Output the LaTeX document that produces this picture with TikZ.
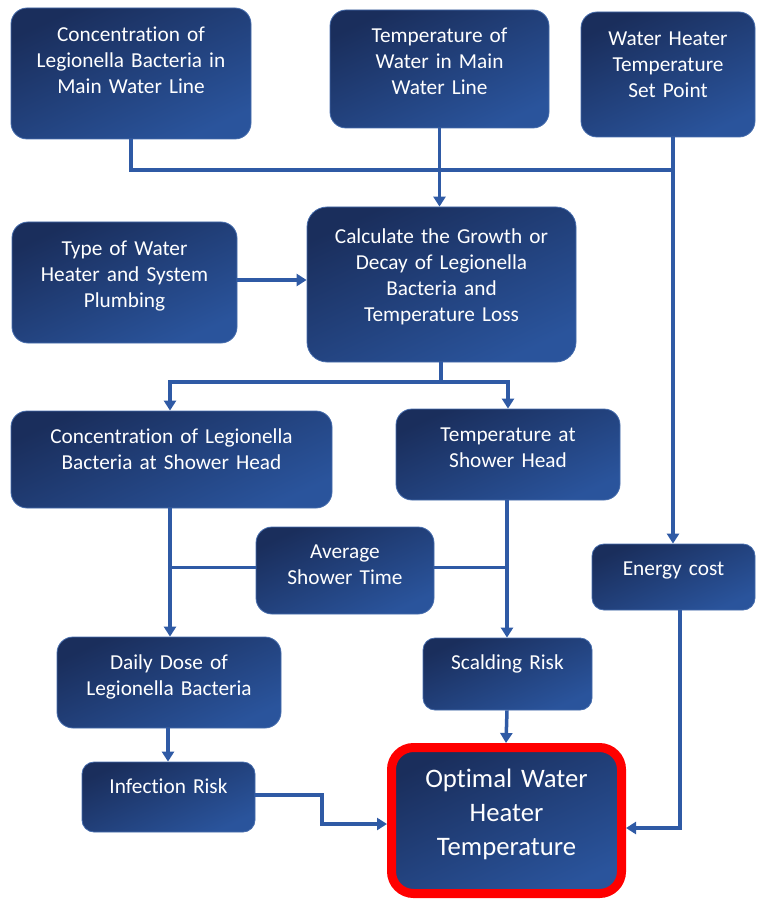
\documentclass[tikz,border=0pt]{standalone}
\usepackage{fontspec}
\setmainfont{Carlito}[Ligatures=NoCommon]
\usetikzlibrary{arrows.meta,calc}
\definecolor{boxdark}{RGB}{26,46,92}
\definecolor{boxlight}{RGB}{42,84,156}
\definecolor{boxedge}{RGB}{70,108,172}
\definecolor{wirecol}{RGB}{47,90,165}
\begin{document}
\begin{tikzpicture}[x=1pt,y=-1pt,
  box/.style={rectangle, rounded corners=16pt, top color=boxdark, bottom color=boxlight, shading angle=25, draw=boxedge, line width=0.8pt, inner sep=0pt},
  txt/.style={text=white, align=center, anchor=base, inner sep=0pt, font=\fontsize{21.3}{26}\selectfont},
  wire/.style={draw=wirecol, line width=3.5pt},
  arr/.style={wire, -{Triangle[length=10pt,width=12pt]}}]
\useasboundingbox (0,0) rectangle (756,901);
% boxes
\node[box, minimum width=240pt, minimum height=131pt] (b1) at (131,73.5) {};
\node[box, minimum width=219pt, minimum height=118pt] (b2) at (439.5,69) {};
\node[box, minimum width=174pt, minimum height=125pt] (b3) at (668,74.5) {};
\node[box, minimum width=225pt, minimum height=121pt] (b4) at (124.5,282.5) {};
\node[box, minimum width=269pt, minimum height=155pt, rounded corners=20pt] (b5) at (441.5,284.5) {};
\node[box, minimum width=321pt, minimum height=97pt] (b6) at (171.5,459.5) {};
\node[box, minimum width=224pt, minimum height=91pt] (b7) at (508,454.5) {};
\node[box, minimum width=178pt, minimum height=87pt] (b8) at (345,570.5) {};
\node[box, minimum width=163pt, minimum height=66pt, rounded corners=12pt] (b9) at (673.5,577) {};
\node[box, minimum width=224pt, minimum height=91pt] (b10) at (169,682.5) {};
\node[box, minimum width=169pt, minimum height=72pt, rounded corners=12pt] (b11) at (507.5,674) {};
\node[box, minimum width=173pt, minimum height=70pt, rounded corners=12pt] (b12) at (168.5,797) {};
\node[box, draw=red, line width=9pt, rounded corners=22pt, minimum width=230pt, minimum height=146pt] (b13) at (506.5,820.5) {};
% texts
\node[txt, text width=240pt] (t1) at (131,42) {Concentration of\\Legionella Bacteria in\\Main Water Line};
\node[txt, text width=219pt] (t2) at (439.5,42.5) {Temperature of\\Water in Main\\Water Line};
\node[txt, text width=174pt] (t3) at (668,45.5) {Water Heater\\Temperature\\Set Point};
\node[txt, text width=225pt] (t4) at (124.5,255.5) {Type of Water\\Heater and System\\Plumbing};
\node[txt, text width=269pt] (t5) at (441.5,243.5) {Calculate the Growth or\\Decay of Legionella\\Bacteria and\\Temperature Loss};
\node[txt, text width=321pt] (t6) at (171.5,443.5) {Concentration of Legionella\\Bacteria at Shower Head};
\node[txt, text width=224pt] (t7) at (508,441.5) {Temperature at\\Shower Head};
\node[txt, text width=178pt] (t8) at (345,558.5) {Average\\Shower Time};
\node[txt, text width=163pt] (t9) at (673.5,575.5) {Energy cost};
\node[txt, text width=224pt] (t10) at (169,669) {Daily Dose of\\Legionella Bacteria};
\node[txt, text width=169pt] (t11) at (507.5,669) {Scalding Risk};
\node[txt, text width=173pt] (t12) at (168.5,793) {Infection Risk};
\node[txt, text width=220pt, font=\fontsize{26.7}{34}\selectfont] (t13) at (506.5,787.5) {Optimal Water\\Heater\\Temperature};
% junction coordinates
\coordinate (j1) at (673,170);
\coordinate (j5) at (441,382);
\coordinate (k1) at (322,824);
\coordinate (k2) at (680,828);
% connectors
\draw[wire] (b1.south) |- (j1);
\draw[wire] ($(b3.south)+(5,0)$) -- (j1);
\draw[arr] (b2.south) -- (b2.south |- b5.north);
\draw[arr] (j1) -- (j1 |- b9.north);
\draw[arr] ($(b4.east)+(0,-2.5)$) -- ($(b4.east -| b5.west)+(0,-2.5)$);
\draw[wire] (b5.south -| j5) -- (j5);
\draw[arr] (j5) -| ($(b6.north)+(-1.5,0)$);
\draw[arr] (j5) -| (b7.north);
\draw[arr] ($(b6.south)+(-1.5,0)$) -- ($(b6.south |- b10.north)+(-1.5,0)$);
\draw[wire] ($(b8.west)+(0,-3)$) -- ($(b8.west -| b6.south)+(-1.5,-3)$);
\draw[arr] ($(b7.south)+(-1,0)$) -- ($(b7.south |- b11.north)+(-1,0)$);
\draw[wire] ($(b8.east)+(0,-3)$) -- ($(b8.east -| b7.south)+(-1,-3)$);
\draw[arr] ($(b10.south)+(-1,0)$) -- ($(b10.south |- b12.north)+(-1,0)$);
\draw[arr] ($(b11.south)+(-0.5,0)$) -- ($(b11.south |- b13.north)+(-1.5,0)$);
\draw[arr] ($(b12.east)+(0,-2)$) -| (k1) -- (k1 -| b13.west);
\draw[arr] ($(b9.south)+(6.5,0)$) |- (k2 -| b13.east);
\end{tikzpicture}
\end{document}
